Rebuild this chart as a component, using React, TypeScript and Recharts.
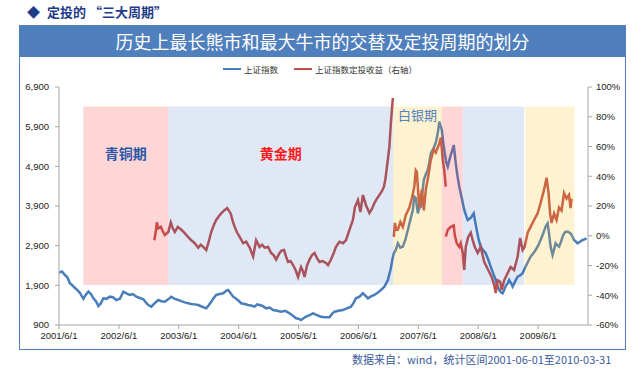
import React from "react";
import { ComposedChart, Line, XAxis, YAxis, ReferenceArea } from "recharts";

// x = months since 2001-06-01
const yearTicks = [0, 12, 24, 36, 48, 60, 72, 84, 96];
const yearLabels = ["2001/6/1", "2002/6/1", "2003/6/1", "2004/6/1", "2005/6/1", "2006/6/1", "2007/6/1", "2008/6/1", "2009/6/1"];
const leftTicks = [900, 1900, 2900, 3900, 4900, 5900, 6900];
const rightTicks = [-60, -40, -20, 0, 20, 40, 60, 80, 100];

// 上证指数 [month, index]
const shIndex = [
  [0, 2220], [0.6, 2250], [1.2, 2160], [1.7, 2100], [2.2, 1950], [2.7, 1900], [3.2, 1833], [3.7, 1780],
  [4.2, 1707], [4.6, 1620], [4.9, 1560], [5.3, 1650], [5.9, 1740], [6.4, 1680], [6.9, 1573], [7.4, 1500],
  [7.9, 1379], [8.4, 1450], [8.9, 1573], [9.5, 1560], [10.2, 1614], [10.8, 1600], [11.5, 1530], [12.2, 1560],
  [12.9, 1740], [13.5, 1700], [14.2, 1657], [14.8, 1680], [15.5, 1614], [16.2, 1580], [16.9, 1548], [17.4, 1470],
  [17.9, 1404], [18.5, 1362], [19.2, 1450], [19.9, 1530], [20.5, 1500], [21.2, 1488], [21.8, 1540], [22.5, 1614],
  [23.2, 1560], [23.9, 1530], [24.5, 1500], [25.2, 1470], [25.9, 1446], [26.5, 1430], [27.2, 1420], [27.9, 1404],
  [28.7, 1360], [29.5, 1320], [30, 1400], [30.5, 1488], [31, 1580], [31.5, 1657], [32.2, 1680], [32.9, 1699],
  [33.5, 1760], [33.9, 1783], [34.4, 1700], [34.9, 1614], [35.5, 1560], [36.2, 1488], [36.5, 1446], [37.2, 1430],
  [37.9, 1404], [38.5, 1390], [39.2, 1362], [39.7, 1420], [40.2, 1404], [40.8, 1380], [41.5, 1320], [42.2, 1340],
  [42.9, 1278], [43.7, 1260], [44.5, 1236], [45.3, 1260], [46.2, 1194], [46.8, 1140], [47.5, 1068], [48, 1060],
  [48.5, 1026], [49, 1070], [49.5, 1110], [50.2, 1150], [50.9, 1194], [51.7, 1150], [52.5, 1110], [53.3, 1093],
  [54.2, 1093], [54.7, 1180], [55.2, 1236], [56, 1260], [56.9, 1278], [57.7, 1320], [58.5, 1362], [59, 1450],
  [59.5, 1573], [60.2, 1614], [60.9, 1699], [61.4, 1640], [61.9, 1573], [62.5, 1620], [63.2, 1657], [63.9, 1720],
  [64.5, 1783], [65.2, 1867], [65.9, 2035], [66.5, 2330], [66.8, 2550], [67.1, 2708], [67.5, 2800], [67.9, 2960],
  [68.4, 2850], [68.9, 2876], [69.4, 3050], [69.9, 3295], [70.4, 3550], [70.9, 3800], [71.2, 4135], [71.5, 4100],
  [71.9, 3716], [72.2, 3850], [72.5, 3884], [73.1, 4556], [73.5, 4700], [73.9, 4808], [74.2, 5000], [74.5, 5228],
  [75.2, 5396], [75.5, 5500], [75.9, 5732], [76.2, 6025], [76.5, 5900], [76.7, 5816], [77, 5500], [77.3, 5228],
  [77.6, 5000], [77.9, 4892], [78.4, 5144], [78.8, 5300], [79.1, 5438], [79.5, 4976], [79.8, 4700], [80.2, 4388],
  [80.7, 4100], [81.2, 3800], [81.6, 3650], [81.9, 3548], [82.5, 3600], [83.1, 3716], [83.4, 3500], [83.7, 3295],
  [84.1, 3050], [84.5, 2876], [85, 2780], [85.5, 2708], [86, 2550], [86.5, 2372], [87, 2200], [87.5, 2035],
  [87.8, 1900], [88.2, 1783], [88.6, 1720], [88.9, 1699], [89.2, 1783], [89.5, 1880], [89.9, 1951], [90.2, 2035],
  [90.6, 1950], [90.9, 1867], [91.4, 2000], [91.9, 2119], [92.4, 2150], [92.9, 2203], [93.5, 2372], [94, 2500],
  [94.5, 2624], [95, 2700], [95.5, 2791], [96, 2900], [96.5, 3043], [97, 3200], [97.5, 3379], [97.9, 3463],
  [98.2, 3200], [98.5, 2876], [98.9, 2666], [99.2, 2800], [99.5, 2960], [99.9, 2900], [100.2, 2876], [100.6, 3000],
  [100.9, 3127], [101.2, 3200], [101.5, 3253], [102, 3250], [102.5, 3211], [102.8, 3150], [103.2, 3043], [103.6, 3000],
  [103.9, 2960], [104.4, 3000], [104.9, 3043], [105.3, 3060], [105.7, 3085],
];

// 定投收益 (%), three runs
const dcaRun1 = [
  [19.1, -3], [19.4, 3], [19.6, 9], [19.9, 5], [20.4, 6], [20.8, 3], [21.2, 0.5], [21.9, 2.5], [22.4, 9], [22.8, 5],
  [23.2, 2.5], [23.8, 6], [24.5, 4], [25.2, 1.8], [25.9, -1], [26.5, -3], [27.2, -5], [27.9, -8], [28.4, -6], [28.9, -7.5],
  [29.5, -9.6], [30, -4], [30.5, 2.5], [31, 7], [31.5, 10.6], [32, 13], [32.5, 15], [33.1, 17], [33.7, 18.6], [34.4, 15],
  [34.8, 10], [35.2, 6], [35.7, 2], [36.2, -0.8], [36.9, -5], [37.5, -4], [38.2, -8], [38.9, -14], [39.5, -3], [40.2, -7.5],
  [40.7, -6], [41.2, -8], [41.9, -7.5], [42.5, -11.6], [43, -13], [43.5, -16], [44.2, -11.6], [44.6, -10], [45.1, -9.6], [45.5, -14],
  [45.9, -17.6], [46.4, -17], [46.9, -19.7], [47.4, -23], [47.9, -27.7], [48.5, -21], [48.9, -24], [49.2, -27.7], [49.7, -20], [50.2, -16],
  [50.7, -13], [51.2, -11.6], [51.7, -15], [52.2, -17.6], [52.8, -17], [53.5, -18.3], [53.9, -19.7], [54.5, -16], [55, -12], [55.5, -7.5],
  [56.2, -4], [56.9, -5], [57.5, -3], [58.2, 3.9], [58.9, 10.6], [59.3, 19.3], [59.9, 24], [60.4, 16], [60.9, 27.4], [61.5, 20.7],
  [62.2, 15.3], [62.7, 18], [63.2, 22], [63.7, 25], [64.2, 27.4], [64.7, 30], [65.1, 32.8], [65.4, 38], [65.7, 46], [66.2, 59.7],
  [66.5, 75.8], [66.9, 92.6],
];
const dcaRun2 = [
  [67.1, -0.8], [67.3, 8.6], [67.6, 4], [67.9, 4], [68.4, 9.2], [68.9, 5.9], [69.5, 14], [70.2, 19], [70.7, 25], [71.2, 33],
  [71.5, 44], [71.7, 43], [72, 28], [72.2, 19], [72.7, 31], [73.1, 17], [73.5, 31], [74, 40], [74.5, 51], [75.1, 58],
  [75.5, 56], [76.2, 62], [76.5, 66], [76.9, 51], [77.2, 44], [77.5, 33],
];
const dcaRun3 = [
  [77.5, -0.6], [77.9, 4], [78.5, 6], [79.1, 7], [79.3, 0.5], [79.7, -5], [80.2, -7.5], [80.5, -5], [80.9, -11.6], [81.2, -23],
  [81.5, -7.5], [82, -0.8], [82.5, 2], [82.9, -3], [83.3, -7.5], [83.9, -11.6], [84.5, -7.5], [85.2, -17.6], [86, -23], [86.7, -27.7],
  [87.2, -33], [87.5, -38.5], [87.9, -30], [88.4, -31], [88.7, -36.5], [89.2, -30], [89.9, -25], [90.5, -21], [91.2, -23], [91.9, -14],
  [92.4, -1.5], [92.9, -9.6], [93.3, -7.5], [93.9, 2], [94.5, 6], [95.2, 10.6], [95.9, 15], [96.5, 22], [97.2, 31], [97.7, 39],
  [98.1, 28.7], [98.4, 15], [98.7, 8.6], [99.2, 15], [99.7, 10.6], [100.2, 19], [100.7, 17], [101.2, 28.7], [101.7, 25], [102.2, 27.4],
  [102.5, 18.6], [102.7, 25],
];

// period bands [from, to] in months
const bronze = [4.87, 21.9];
const golden1 = [21.9, 67];
const silver1 = [67, 76.7];
const bronze2 = [76.7, 80.9];
const golden2 = [80.9, 93.2];
const silver2 = [93.4, 103.3];
const bandRange = [1910, 6410];

const toRows = (arr: number[][]) => arr.map(([m, v]) => ({ m, v }));

const BLUE = "#4A7EBB";
const RED = "#C0504D";
const AXIS = "#A6A6A6";
const numFont = "'Liberation Sans', Arial, sans-serif";
const cjkFont = "'Noto Sans CJK SC', 'Noto Sans', sans-serif";

const tickStyle = { fontSize: 9.5, fill: "#222", fontFamily: numFont };

const bandLabel = (value: string, color: string, offset: number, size: number, bold: boolean) => ({
  value,
  position: "insideTop" as const,
  offset,
  fill: color,
  fontSize: size,
  fontWeight: bold ? 700 : 400,
  fontFamily: cjkFont,
});

export default function App() {
  return (
    <div style={{ position: "absolute", left: 0, top: 0, width: 640, height: 369, background: "#fff", overflow: "hidden", fontFamily: cjkFont }}>
      <div style={{ position: "absolute", left: 27, top: 2, fontSize: 13, color: "#1F3C88", fontWeight: 700, lineHeight: "20px" }}>
        <span style={{ marginRight: 7 }}>◆</span>定投的 “三大周期”
      </div>
      <div style={{ position: "absolute", left: 19, top: 25, width: 605, height: 323, border: "1.5px solid #4F7FBD" }} />
      <div style={{ position: "absolute", left: 20, top: 26, width: 605, height: 31, background: "#4F7FBD", color: "#fff", fontSize: 18, lineHeight: "31px", textAlign: "center" }}>
        历史上最长熊市和最大牛市的交替及定投周期的划分
      </div>

      <div style={{ position: "absolute", left: 223, top: 63, fontSize: 8.5, color: "#333", display: "flex", alignItems: "center", lineHeight: "12px" }}>
        <span style={{ display: "inline-block", width: 18, height: 2.5, background: BLUE, marginRight: 3 }} />
        <span style={{ marginRight: 16 }}>上证指数</span>
        <span style={{ display: "inline-block", width: 18, height: 2.5, background: RED, marginRight: 3 }} />
        <span>上证指数定投收益（右轴）</span>
      </div>

      <div style={{ position: "absolute", left: 0, top: 0 }}>
        <ComposedChart width={640} height={369} margin={{ top: 87, right: 0, bottom: 14, left: 0 }}>
          <XAxis
            type="number"
            dataKey="m"
            domain={[0, 106]}
            ticks={yearTicks}
            tickFormatter={(v: number) => yearLabels[yearTicks.indexOf(v)]}
            allowDataOverflow
            height={30}
            stroke={AXIS}
            tickSize={4}
            tickMargin={3}
            tick={tickStyle}
          />
          <YAxis
            yAxisId="left"
            domain={[900, 6900]}
            ticks={leftTicks}
            tickFormatter={(v: number) => v.toLocaleString("en-US")}
            width={59}
            stroke={AXIS}
            tickSize={4}
            tickMargin={6}
            tick={tickStyle}
          />
          <YAxis
            yAxisId="right"
            orientation="right"
            domain={[-60, 100]}
            ticks={rightTicks}
            tickFormatter={(v: number) => `${v}%`}
            width={52}
            stroke={AXIS}
            tickSize={4}
            tickMargin={4}
            tick={{ ...tickStyle, textAnchor: "start" }}
          />

          <Line yAxisId="left" data={toRows(shIndex)} dataKey="v" stroke={BLUE} strokeWidth={2.5} dot={false} isAnimationActive={false} />
          <Line yAxisId="right" data={toRows(dcaRun1)} dataKey="v" stroke={RED} strokeWidth={2.5} dot={false} isAnimationActive={false} />
          <Line yAxisId="right" data={toRows(dcaRun2)} dataKey="v" stroke={RED} strokeWidth={2.5} dot={false} isAnimationActive={false} />
          <Line yAxisId="right" data={toRows(dcaRun3)} dataKey="v" stroke={RED} strokeWidth={2.5} dot={false} isAnimationActive={false} />

          {/* translucent period overlays drawn over the lines */}
          <ReferenceArea yAxisId="left" zIndex={450} x1={bronze[0]} x2={bronze[1]} y1={bandRange[0]} y2={bandRange[1]} fill="#FF3232" fillOpacity={0.2} stroke="none" label={bandLabel("青铜期", "#2A58A8", 43, 14, true)} />
          <ReferenceArea yAxisId="left" zIndex={450} x1={golden1[0]} x2={golden1[1]} y1={bandRange[0]} y2={bandRange[1]} fill="#2A66B6" fillOpacity={0.15} stroke="none" label={bandLabel("黄金期", "#FF1A1A", 43, 14, true)} />
          <ReferenceArea yAxisId="left" zIndex={450} x1={silver1[0]} x2={silver1[1]} y1={bandRange[0]} y2={bandRange[1]} fill="#FFBE19" fillOpacity={0.2} stroke="none" label={bandLabel("白银期", "#4F81BD", 4, 13, false)} />
          <ReferenceArea yAxisId="left" zIndex={450} x1={bronze2[0]} x2={bronze2[1]} y1={bandRange[0]} y2={bandRange[1]} fill="#FF3232" fillOpacity={0.2} stroke="none" />
          <ReferenceArea yAxisId="left" zIndex={450} x1={golden2[0]} x2={golden2[1]} y1={bandRange[0]} y2={bandRange[1]} fill="#2A66B6" fillOpacity={0.15} stroke="none" />
          <ReferenceArea yAxisId="left" zIndex={450} x1={silver2[0]} x2={silver2[1]} y1={bandRange[0]} y2={bandRange[1]} fill="#FFBE19" fillOpacity={0.2} stroke="none" />
        </ComposedChart>
      </div>

      <div style={{ position: "absolute", left: 352, top: 351, fontSize: 11, color: "#3A5A9C", lineHeight: "16px", whiteSpace: "nowrap" }}>
        数据来自：wind，统计区间2001-06-01至2010-03-31
      </div>
    </div>
  );
}
